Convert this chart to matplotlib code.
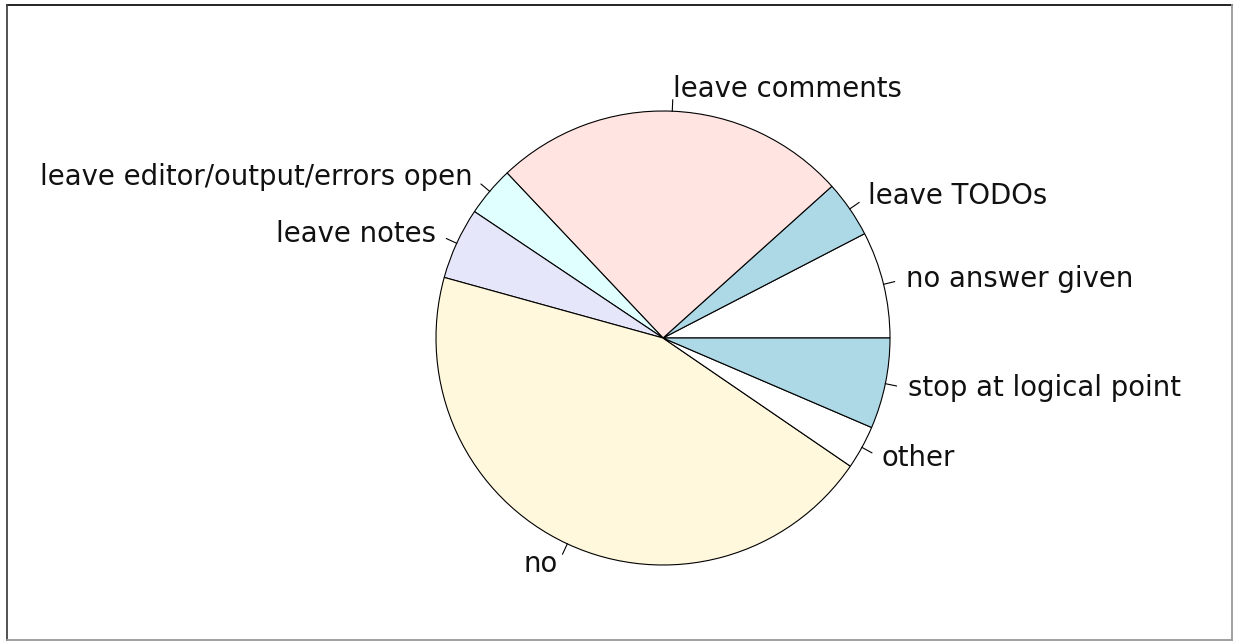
import numpy as np
import matplotlib.pyplot as plt
from matplotlib.lines import Line2D

labels = ['no answer given', 'leave TODOs', 'leave comments',
          'leave editor/output/errors open', 'leave notes', 'no',
          'other', 'stop at logical point']
values = [7.6, 4.05, 25.4, 3.55, 5.1, 44.75, 3.1, 6.45]
colors = ['white', '#ADD8E6', '#FFE4E1', '#E0FFFF', '#E6E6FA', '#FFF8DC',
          'white', '#ADD8E6']

W, H = 1233, 641
cx, cy, r = 663, -338, 227

fig = plt.figure(figsize=(W / 100, H / 100), dpi=100)
ax = fig.add_axes([0, 0, 1, 1])
ax.pie(values, colors=colors, startangle=0, counterclock=True,
       center=(cx, cy), radius=r,
       wedgeprops=dict(edgecolor='black', linewidth=0.8))

# labels and ticks, R style
frac = np.array(values) / sum(values)
ends = np.cumsum(frac) * 360
mids = np.radians(ends - frac * 180)
for lab, a in zip(labels, mids):
    c, s = np.cos(a), np.sin(a)
    ax.plot([cx + r * c, cx + 1.05 * r * c], [cy + r * s, cy + 1.05 * r * s],
            color='black', linewidth=0.8)
    ax.text(cx + 1.1 * r * c, cy + 1.1 * r * s, lab, fontsize=19.8,
            ha='left' if c > 0 else 'right', va='center', color='#111111')

ax.set_xlim(0, W)
ax.set_ylim(-H, 0)
ax.set_aspect('equal')
ax.axis('off')

# screenshot frame
x0, x1 = 7 / W, 1232 / W
y0, y1 = 1 - 640 / H, 1 - 4.5 / H
frame = [((x0, x1), (y1, y1), '#111111'), ((x0, x0), (y0, y1), '#444444'),
         ((x1, x1), (y0, y1), '#999999'), ((x0, x1), (y0, y0), '#999999')]
for xs, ys, col in frame:
    fig.lines.append(Line2D(xs, ys, transform=fig.transFigure, color=col, linewidth=1.3))

fig.savefig('out.png', dpi=100)
